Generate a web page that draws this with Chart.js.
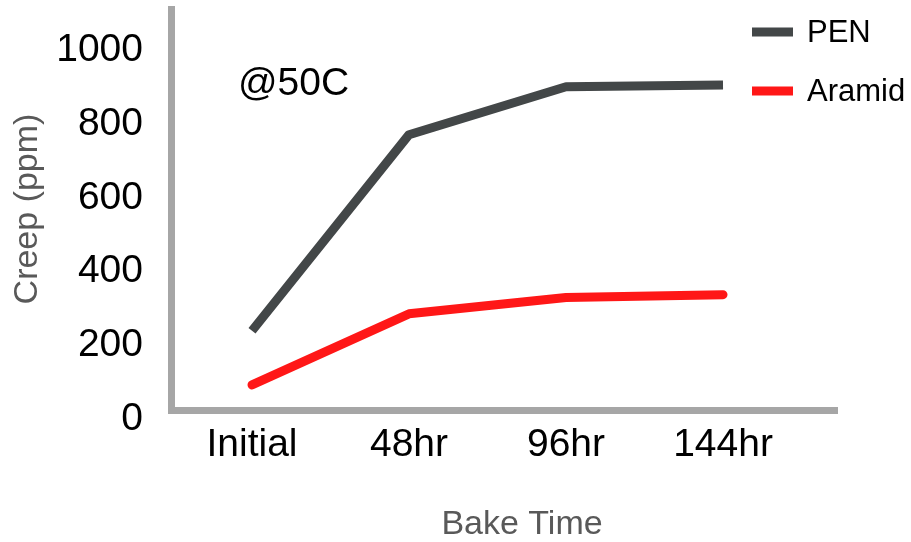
<!DOCTYPE html>
<html>
<head>
<meta charset="utf-8">
<script src="https://cdn.jsdelivr.net/npm/chart.js@4.4.1/dist/chart.umd.min.js"></script>
<style>
  body { margin: 0; background: #fff; }
  #wrap { width: 911px; height: 542px; }
</style>
</head>
<body>
<div id="wrap"><canvas id="creepChart"></canvas></div>
<script>
// DATA
const categories = ['Initial', '48hr', '96hr', '144hr'];
const penValues = [215, 747, 877, 882];
const aramidValues = [68, 261, 305, 313];
const yTicks = [0, 200, 400, 600, 800, 1000];

const FONT = "'Liberation Sans', Arial, sans-serif";
const AXIS_GREY = '#a6a6a6';
const TITLE_GREY = '#595959';

const series = [
    { label: 'PEN', values: penValues, color: '#434748', cap: 'butt' },
    { label: 'Aramid', values: aramidValues, color: '#ff1717', cap: 'round' }
];

// legend, note and axis titles drawn on top
const overlayText = {
    id: 'overlayText',
    afterDraw(chart) {
        const ctx = chart.ctx;
        ctx.save();

        // "@50C" note
        ctx.fillStyle = '#000';
        ctx.font = '39px ' + FONT;
        ctx.textAlign = 'left';
        ctx.textBaseline = 'middle';
        ctx.fillText('@50C', 238, 84);

        // legend
        ctx.font = '31px ' + FONT;
        series.forEach((s, i) => {
            const y = 32 + i * 59;
            ctx.fillStyle = s.color;
            ctx.fillRect(752, y - 4.5, 41, 9);
            ctx.fillStyle = '#000';
            ctx.fillText(s.label, 807, y + 1);
        });

        // axis titles
        ctx.fillStyle = TITLE_GREY;
        ctx.font = '34px ' + FONT;
        ctx.textAlign = 'center';
        ctx.fillText('Bake Time', 522, 525);

        ctx.translate(28, 209);
        ctx.rotate(-Math.PI / 2);
        ctx.fillText('Creep (ppm)', 0, 0);
        ctx.restore();
    }
};

const ctx = document.getElementById('creepChart').getContext('2d');
new Chart(ctx, {
    type: 'line',
    data: {
        datasets: series.map(s => ({
            label: s.label,
            data: s.values.map((v, i) => ({ x: i, y: v })),
            borderColor: s.color,
            backgroundColor: s.color,
            borderWidth: 9,
            borderCapStyle: s.cap,
            borderJoinStyle: 'round',
            pointRadius: 0,
            tension: 0,
            fill: false
        }))
    },
    options: {
        responsive: true,
        maintainAspectRatio: false,
        animation: false,
        layout: { padding: { top: 9, right: 74, left: 0, bottom: 0 } },
        plugins: {
            legend: { display: false },
            tooltip: { enabled: false }
        },
        scales: {
            x: {
                type: 'linear',
                min: -0.516,
                max: 3.726,
                grid: { display: false, drawTicks: false },
                border: { display: true, color: AXIS_GREY, width: 7 },
                afterBuildTicks: scale => {
                    scale.ticks = categories.map((c, i) => ({ value: i }));
                },
                afterFit: scale => {
                    scale.height = 132;
                    scale.paddingLeft = 0;
                    scale.paddingRight = 0;
                },
                ticks: {
                    autoSkip: false,
                    maxRotation: 0,
                    padding: 12,
                    color: '#000',
                    font: { family: FONT, size: 39 },
                    callback: (v, i) => categories[i]
                }
            },
            y: {
                min: 0,
                max: 1088,
                grid: { display: false, drawTicks: false },
                border: { display: true, color: AXIS_GREY, width: 7 },
                afterBuildTicks: scale => {
                    scale.ticks = yTicks.map(v => ({ value: v }));
                },
                afterFit: scale => {
                    scale.width = 171;
                    scale.paddingTop = 0;
                    scale.paddingBottom = 0;
                },
                ticks: {
                    padding: 28,
                    labelOffset: 9,
                    color: '#000',
                    font: { family: FONT, size: 39 },
                    callback: v => String(v)
                }
            }
        }
    },
    plugins: [overlayText]
});
</script>
</body>
</html>
